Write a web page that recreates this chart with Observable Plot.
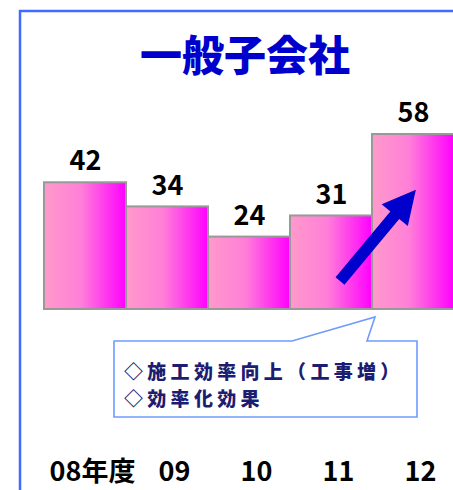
<!DOCTYPE html>
<html>
<head>
<meta charset="utf-8">
<script src="https://cdn.jsdelivr.net/npm/d3@7"></script>
<script src="https://cdn.jsdelivr.net/npm/@observablehq/plot@0.6"></script>
<style>
  html, body { margin: 0; padding: 0; background: #fff; }
  #wrap { position: relative; width: 453px; height: 490px; overflow: hidden; }
  #wrap svg { position: absolute; left: 0; top: 0; }
  .jp { font-family: "Noto Sans CJK JP", "Noto Sans", sans-serif; }
</style>
</head>
<body>
<div id="wrap"></div>
<script>
// ---- data ----
const years = ["08", "09", "10", "11", "12"];
const yearLabels = ["08年度", "09", "10", "11", "12"];
const values = [42, 34, 24, 31, 58];
const title = "一般子会社";
const noteLines = ["◇施工効率向上（工事増）", "◇効率化効果"];

const data = years.map((y, i) => ({year: y, label: yearLabels[i], value: values[i]}));

const NS = "http://www.w3.org/2000/svg";
function el(name, attrs) {
  const e = document.createElementNS(NS, name);
  for (const k in attrs) e.setAttribute(k, attrs[k]);
  return e;
}

// gradient definitions
const defsMark = () => {
  const defs = el("defs", {});
  const g = el("linearGradient", {id: "barGrad", x1: "0", y1: "0", x2: "1", y2: "0"});
  g.appendChild(el("stop", {offset: "0", "stop-color": "#ff9acb"}));
  g.appendChild(el("stop", {offset: "0.45", "stop-color": "#ff7fd8"}));
  g.appendChild(el("stop", {offset: "1", "stop-color": "#ff00ff"}));
  defs.appendChild(g);
  return defs;
};

// blue frame (top and left edges)
const frameMark = () => el("path", {d: "M20,492V11H456", fill: "none", stroke: "#3f6cff", "stroke-width": 2.5});

// title
const titleMark = () => {
  const t = el("text", {x: 245, y: 52, "text-anchor": "middle", "dominant-baseline": "central",
    fill: "#0000cc", "font-size": 42, "font-weight": 900, class: "jp"});
  t.textContent = title;
  return t;
};

// upward arrow anchored to the scales
const arrowMark = (index, {x, y}) => {
  const bw = x.bandwidth();
  const x0 = x("11") + bw * 0.61, y0 = y(9.3);
  const x1 = x("12") + bw * 0.535, y1 = y(39.5);
  const dx = x1 - x0, dy = y1 - y0, L = Math.hypot(dx, dy);
  const ux = dx / L, uy = dy / L, px = -uy, py = ux;
  const sw = 5.8, hw = 17, hl = 33;
  const bx = x1 - ux * hl, by = y1 - uy * hl;
  const pts = [
    [x0 + px * sw, y0 + py * sw],
    [bx + px * sw, by + py * sw],
    [bx + px * hw, by + py * hw],
    [x1, y1],
    [bx - px * hw, by - py * hw],
    [bx - px * sw, by - py * sw],
    [x0 - px * sw, y0 - py * sw]
  ];
  return el("path", {d: "M" + pts.map(p => p.join(",")).join("L") + "Z", fill: "#0000cc"});
};

// callout box with pointer
const calloutMark = () => {
  const g = el("g", {"text-anchor": "start"});
  g.appendChild(el("path", {
    d: "M114,341H292L375,317L367,341H417V417H114Z",
    fill: "#fff", stroke: "#6f9bff", "stroke-width": 1.6
  }));
  noteLines.forEach((s, i) => {
    const t = el("text", {x: 124, y: 370 + i * 27.5, "text-anchor": "start", "dominant-baseline": "central",
      fill: "#1c1c72", "font-size": 19, "font-weight": 900, "letter-spacing": 4.3, class: "jp"});
    t.textContent = s;
    g.appendChild(t);
  });
  return g;
};

const chart = Plot.plot({
  width: 453,
  height: 490,
  marginLeft: 43,
  marginRight: 0,
  marginTop: 134,
  marginBottom: 181,
  style: {background: "transparent", overflow: "visible"},
  x: {domain: years, range: [43, 455.5], padding: 0, axis: null},
  y: {domain: [0, 58], range: [309, 134], axis: null},
  marks: [
    defsMark,
    frameMark,
    titleMark,
    Plot.barY(data, {x: "year", y: "value", fill: "url(#barGrad)", stroke: "#999999", strokeWidth: 2}),
    Plot.text(data, {x: "year", y: "value", text: d => String(d.value), dy: -21,
      fontSize: 27, fontWeight: "bold", fill: "#000", fontFamily: "Noto Sans CJK JP"}),
    Plot.text(data, {x: "year", y: d => 0, text: "label", dy: 163, dx: 7,
      fontSize: 27, fontWeight: "bold", fill: "#000", fontFamily: "Noto Sans CJK JP"}),
    arrowMark,
    calloutMark
  ]
});
document.getElementById("wrap").appendChild(chart);
</script>
</body>
</html>
